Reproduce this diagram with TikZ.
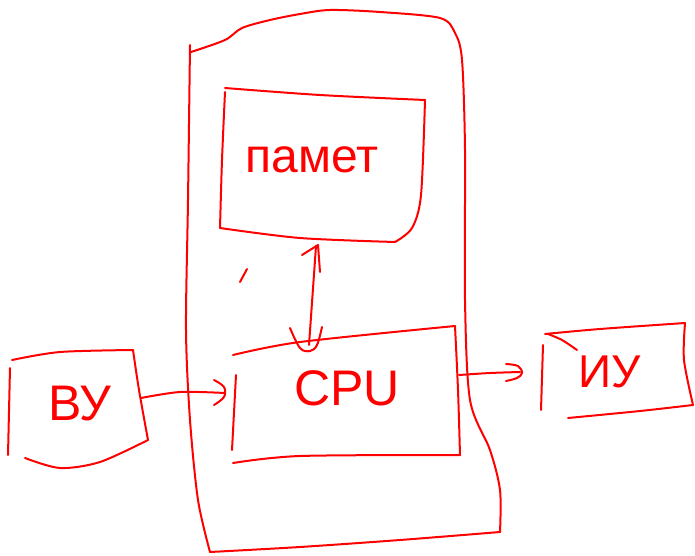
\documentclass[tikz,border=0pt]{standalone}
\usepackage{fontspec}
\setmainfont{Liberation Sans}
\begin{document}
\begin{tikzpicture}[x=1pt,y=-1pt,
  sketch/.style={draw=red, line width=2pt, line cap=round, line join=round},
  lbl/.style={text=red, inner sep=0pt}]
\useasboundingbox (0,0) rectangle (695,556);
% outer case
\draw[sketch] plot[smooth, tension=0.5] coordinates {(190,45) (188,200) (186,330) (190,420) (198,500) (210,552)};
\draw[sketch] plot[smooth, tension=0.5] coordinates {(191,52) (225,40) (242,28) (270,20) (300,14) (330,10) (380,12) (440,18) (455,33) (462,60) (465,150) (465,300) (470,400) (490,450) (500,490) (500,532)};
\draw[sketch] plot[smooth, tension=0.5] coordinates {(210,552) (300,547) (400,540) (500,532)};
% memory box
\draw[sketch] plot[smooth, tension=0.5] coordinates {(225,88) (320,95) (425,100)};
\draw[sketch] plot[smooth, tension=0.5] coordinates {(225,92) (222,160) (220,228)};
\draw[sketch] plot[smooth, tension=0.5] coordinates {(425,100) (421,195) (412,228) (395,242)};
\draw[sketch] plot[smooth, tension=0.5] coordinates {(220,228) (300,238) (395,242)};
\node[lbl, font=\fontsize{48}{50}\selectfont] (mem) at (312,160) {памет};
% CPU box
\draw[sketch] plot[smooth, tension=0.5] coordinates {(233,355) (300,342) (455,326)};
\draw[sketch] plot[smooth, tension=0.5] coordinates {(455,326) (458,390) (460,455)};
\draw[sketch] plot[smooth, tension=0.5] coordinates {(233,463) (300,456) (460,455)};
\draw[sketch] (236,375) -- (232,450);
\node[lbl, font=\fontsize{50}{52}\selectfont] (cpu) at (347,388) {CPU};
% memory <-> CPU arrow
\coordinate (mtop) at (316,246);
\coordinate (mbot) at (309,345);
\draw[sketch] (mtop) -- (mbot);
\draw[sketch] (302,255) -- (318,245) -- (320,272);
\draw[sketch] plot[smooth, tension=0.6] coordinates {(290,328) (300,348) (310,351) (317,345) (322,327)};
\draw[sketch] (240,282) -- (247,269);
% input device
\draw[sketch] (10,368) -- (8,455);
\draw[sketch] plot[smooth, tension=0.5] coordinates {(12,360) (60,352) (133,350)};
\draw[sketch] plot[smooth, tension=0.5] coordinates {(133,350) (139,390) (148,440)};
\draw[sketch] plot[smooth, tension=0.5] coordinates {(25,458) (60,468) (100,462) (148,440)};
\node[lbl, font=\fontsize{50}{52}\selectfont] (in) at (80,404) {ВУ};
% arrow in -> CPU
\draw[sketch] plot[smooth, tension=0.5] coordinates {(141,398) (180,392) (225,393)};
\draw[sketch] plot[smooth, tension=0.6] coordinates {(214,380) (224,387) (224,397) (214,405)};
% output device
\draw[sketch] plot[smooth, tension=0.5] coordinates {(545,334) (600,329) (685,323)};
\draw[sketch] (543,345) -- (541,410);
\draw[sketch] plot[smooth, tension=0.5] coordinates {(685,323) (684,360) (693,405)};
\draw[sketch] plot[smooth, tension=0.5] coordinates {(568,418) (640,411) (693,405)};
\draw[sketch] plot[smooth, tension=0.5] coordinates {(548,334) (562,340) (577,350)};
\node[lbl, font=\fontsize{46}{48}\selectfont] (out) at (610,372) {ИУ};
% arrow CPU -> out
\draw[sketch] plot[smooth, tension=0.5] coordinates {(459,375) (490,373) (520,372)};
\draw[sketch] plot[smooth, tension=0.6] coordinates {(506,364) (518,366) (522,373) (517,378) (506,381)};
\end{tikzpicture}
\end{document}
